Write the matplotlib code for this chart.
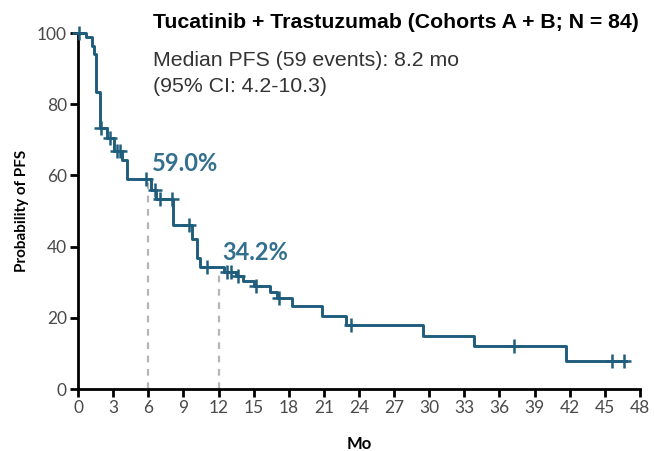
import numpy as np
import matplotlib
matplotlib.use("Agg")
import matplotlib.pyplot as plt

# Kaplan-Meier step points (months, % progression-free)
km_time = [0, 0.7, 1.2, 1.35, 1.5, 1.55, 1.85, 2.45, 3.1, 3.8, 4.2, 6.2, 6.7,
           8.1, 9.7, 10.2, 10.4, 12.5, 13.5, 14.1, 15.0, 16.4, 17.0, 18.3,
           20.8, 22.9, 29.5, 33.8, 41.7, 46.8]
km_surv = [100, 98.8, 96.4, 94.0, 88.1, 83.3, 73.4, 70.5, 66.8, 64.4, 59.0,
           55.9, 53.5, 46.1, 42.0, 36.8, 34.2, 33.0, 31.7, 30.4, 28.9, 27.3,
           25.7, 23.4, 20.6, 17.9, 15.0, 12.0, 7.9, 7.9]

# censored patients
cens_time = [0.1, 2.0, 2.7, 3.3, 3.6, 5.8, 6.6, 7.0, 8.0, 9.5, 11.0, 12.7,
             13.1, 13.7, 15.2, 17.2, 23.3, 37.2, 45.6, 46.6]

# landmark estimates
land_time = [6, 12]
land_pct = [59.0, 34.2]

curve_col = "#1f5d7c"
label_col = "#336f8e"

def surv_at(t):
    idx = np.searchsorted(km_time, t, side="right") - 1
    return km_surv[idx]

fig = plt.figure(figsize=(6.54, 4.51), dpi=100)
ax = fig.add_axes([78/654, 1-389/451, 562/654, 356/451])

ax.step(km_time, km_surv, where="post", color=curve_col, lw=2.1,
        clip_on=False, zorder=3)
ax.plot(cens_time, [surv_at(t) for t in cens_time], ls="none", marker="+",
        ms=10, mew=1.8, color=curve_col, clip_on=False, zorder=4)

for t, p in zip(land_time, land_pct):
    ax.plot([t, t], [0, p], ls=(0, (3, 3)), color="#b5b5b5", lw=1.6, zorder=2)
    ax.text(t + 0.3, p + 1.0, f"{p:.1f}%", color=label_col, fontsize=17,
            fontweight="bold", family="Lato", ha="left", va="bottom")

ax.set_xlim(0, 48)
ax.set_ylim(0, 100)
ax.set_xticks(np.arange(0, 49, 3))
ax.set_yticks(np.arange(0, 101, 20))
for s in ["top", "right"]:
    ax.spines[s].set_visible(False)
for s in ["left", "bottom"]:
    ax.spines[s].set_linewidth(2)
ax.tick_params(width=2, length=6, colors="black", labelcolor="#4a4a4a",
               labelsize=12.5, pad=2)
for lab in ax.get_xticklabels() + ax.get_yticklabels():
    lab.set_family("Lato")

ax.set_xlabel("Mo", fontsize=12, fontweight="bold", family="Lato", labelpad=14)
ax.set_ylabel("Probability of PFS", fontsize=11, fontweight="bold",
              family="Lato", labelpad=6)

fig.text(153/654, 1-22/451, "Tucatinib + Trastuzumab (Cohorts A + B; N = 84)",
         fontsize=15.3, fontweight="bold", family="Liberation Sans", va="center")
fig.text(153/654, 1-60/451, "Median PFS (59 events): 8.2 mo", fontsize=15.3,
         family="Liberation Sans", color="#333333", va="center")
fig.text(153/654, 1-87/451, "(95% CI: 4.2-10.3)", fontsize=15.3,
         family="Liberation Sans", color="#333333", va="center")

fig.savefig("out.png", dpi=100)
